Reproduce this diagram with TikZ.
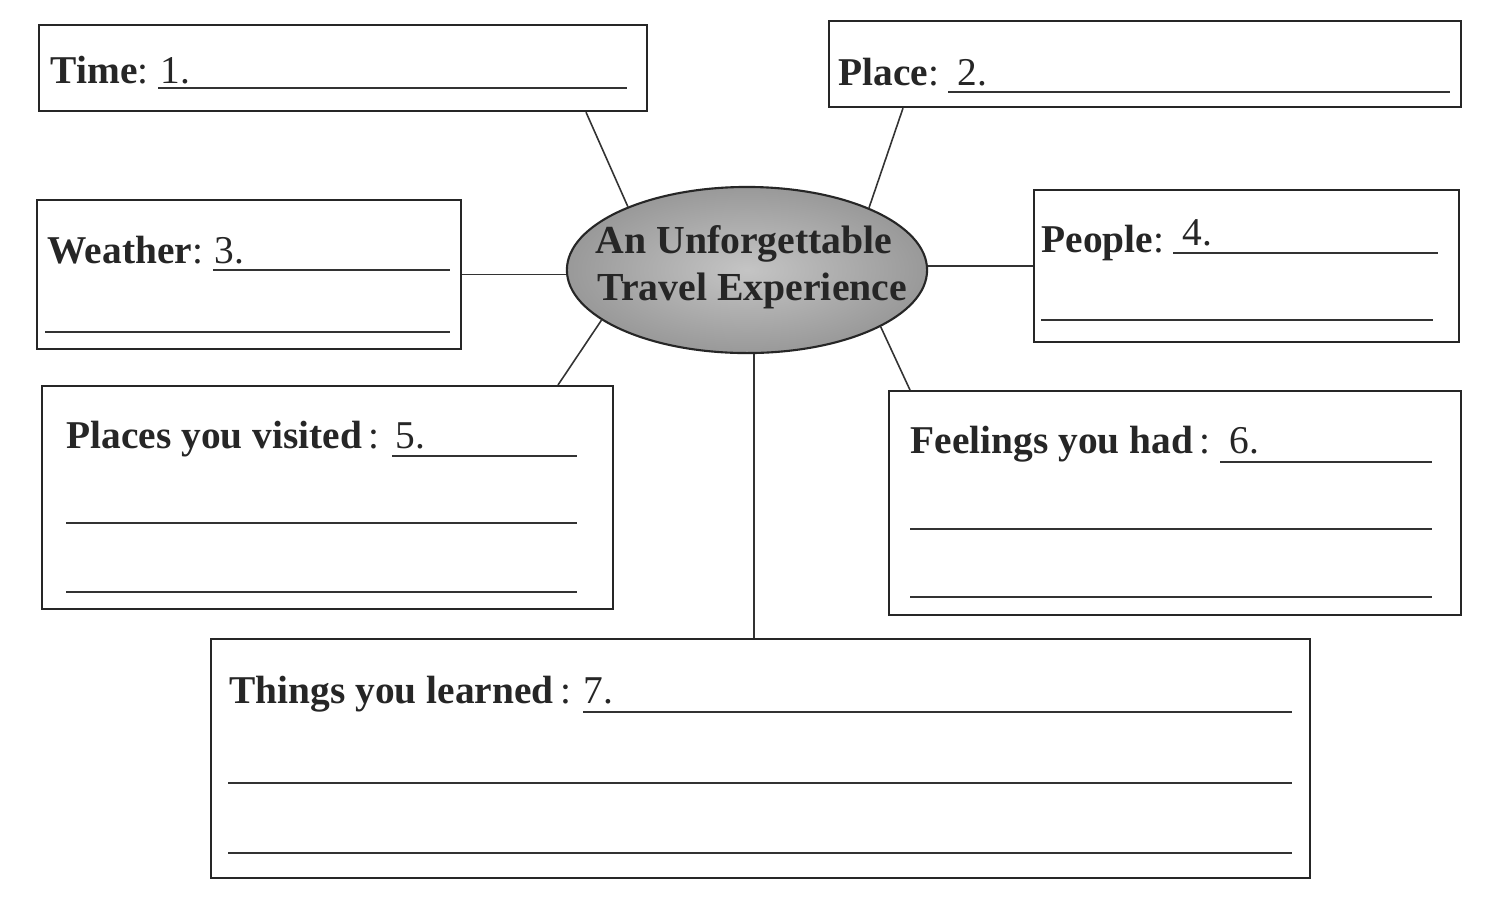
\documentclass[tikz,border=0pt]{standalone}
\usepackage{fontspec}
\setmainfont{Liberation Serif}
\usetikzlibrary{calc,shapes.geometric}
\begin{document}
\begin{tikzpicture}[x=0.01cm,y=-0.01cm,
  box/.style={draw=black!85,line width=0.6pt,rectangle,anchor=north west,inner sep=0pt},
  blank/.style={draw=black!80,line width=0.45pt},
  link/.style={draw=black!80,line width=0.45pt},
  lbl/.style={anchor=base west,inner sep=0pt,font=\fontsize{11.2}{13}\selectfont\bfseries,text=black!85},
  num/.style={anchor=base west,inner sep=0pt,font=\fontsize{11.2}{13}\selectfont,text=black!85},
  hub/.style={ellipse,draw=black!85,line width=0.6pt,inner color=black!23,outer color=black!40,
    minimum width=3.6cm,minimum height=1.66cm,inner sep=0pt},
  hubtext/.style={anchor=base west,inner sep=0pt,
    font=\fontsize{11.3}{13.8}\selectfont\bfseries,text=black!85}]
\useasboundingbox (0,0) rectangle (1502,902);
\fill[white] (0,0) rectangle (1502,902);
% boxes
\node[box,minimum width=6.08cm,minimum height=0.86cm] (time) at (38,24) {};
\node[box,minimum width=6.32cm,minimum height=0.86cm] (place) at (828,20) {};
\node[box,minimum width=4.24cm,minimum height=1.49cm] (weather) at (36,199) {};
\node[box,minimum width=4.25cm,minimum height=1.52cm] (people) at (1033,189) {};
\node[box,minimum width=5.71cm,minimum height=2.23cm] (visited) at (41,385) {};
\node[box,minimum width=5.72cm,minimum height=2.24cm] (feel) at (888,390) {};
\node[box,minimum width=10.98cm,minimum height=2.39cm] (learn) at (210,638) {};
% hub
\node[hub] (hub) at (747,270) {};
\node[hubtext] (hubt1) at (595,253) {An Unforgettable};
\node[hubtext] (hubt2) at (597,300) {Travel Experience};
% connectors
\draw[link] ($(time.south west)+(548,0)$) -- (hub.152);
\draw[link] ($(place.south west)+(75,0)$) -- (hub.27);
\draw[link] (weather.east) -- (weather.east -| hub.west);
\draw[link] (hub.east |- people.west) -- (people.west);
\draw[link] ($(visited.north west)+(517,0)$) -- (hub.199);
\draw[link] ($(feel.north west)+(22,0)$) -- (hub.337);
\coordinate (lt) at ($(learn.north west)+(544,0)$);
\draw[link] (lt |- hub.south) -- (lt);
% texts
\node[lbl] (t1) at (50,83) {Time\textmd{:}};
\node[num] (n1) at (160,83) {1.};
\draw[blank] (158,88) -- (627,88);
\node[lbl] (t2) at (838,85) {Place\textmd{:}};
\node[num] (n2) at (957,85) {2.};
\draw[blank] (948,92) -- (1450,92);
\node[lbl] (t3) at (47,263) {Weather\textmd{:}};
\node[num] (n3) at (214,263) {3.};
\draw[blank] (213,270) -- (450,270);
\draw[blank] (45,332) -- (450,332);
\node[lbl] (t4) at (1041,252) {People\textmd{:}};
\node[num] (n4) at (1182,245) {4.};
\draw[blank] (1173,253) -- (1438,253);
\draw[blank] (1041,320) -- (1433,320);
\node[lbl] (t5) at (66,448) {Places you visited\textmd{\,:}};
\node[num] (n5) at (395,448) {5.};
\draw[blank] (392,456) -- (577,456);
\draw[blank] (66,523) -- (577,523);
\draw[blank] (66,592) -- (577,592);
\node[lbl] (t6) at (910,453) {Feelings you had\textmd{\,:}};
\node[num] (n6) at (1229,453) {6.};
\draw[blank] (1220,462) -- (1432,462);
\draw[blank] (910,529) -- (1432,529);
\draw[blank] (910,597) -- (1432,597);
\node[lbl] (t7) at (229,703) {Things you learned\textmd{\,:}};
\node[num] (n7) at (583,703) {7.};
\draw[blank] (583,712) -- (1292,712);
\draw[blank] (228,783) -- (1292,783);
\draw[blank] (228,853) -- (1292,853);
\end{tikzpicture}
\end{document}
